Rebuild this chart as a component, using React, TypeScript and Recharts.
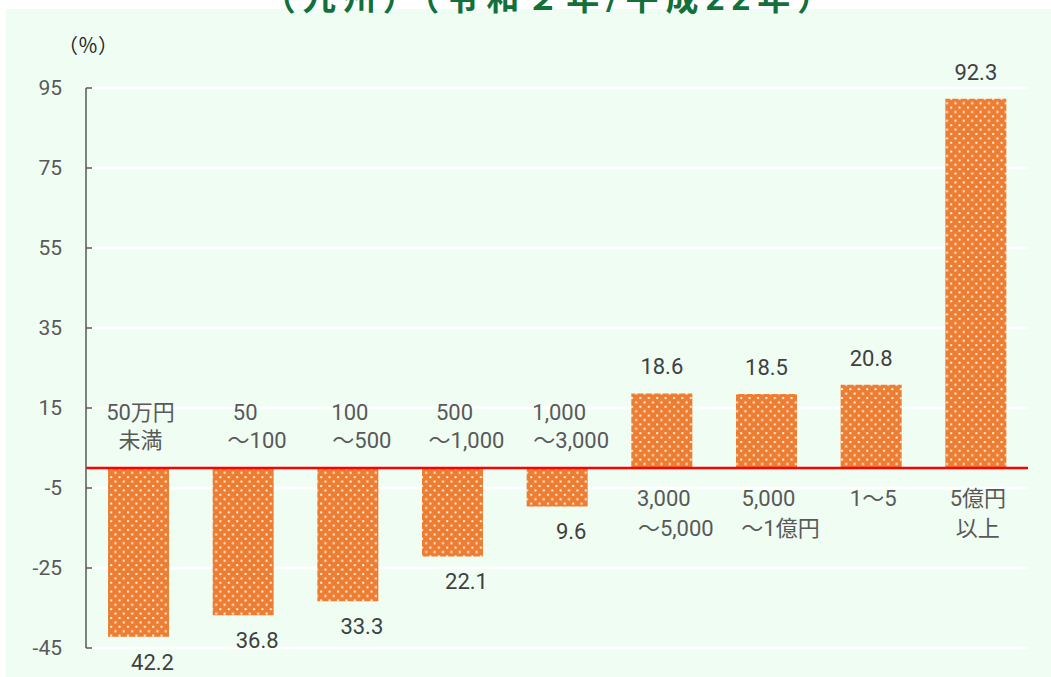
import { BarChart, Bar, XAxis, YAxis, CartesianGrid, ReferenceLine, LabelList } from "recharts";

const labelTop = ["50万円", "50", "100", "500", "1,000", "3,000", "5,000", "1～5", "5億円"];
const labelBottom = ["未満", "～100", "～500", "～1,000", "～3,000", "～5,000", "～1億円", "", "以上"];
const changeRate = [-42.2, -36.8, -33.3, -22.1, -9.6, 18.6, 18.5, 20.8, 92.3];
const yTicks = [-45, -25, -5, 15, 35, 55, 75, 95];

const data = labelTop.map((t, i) => ({ top: t, bottom: labelBottom[i], value: changeRate[i] }));

const FONT = "Roboto, 'Noto Sans CJK JP', sans-serif";
const AXIS_X = 86;

function YTick(props: any) {
  const { y, payload } = props;
  return (
    <g>
      <line x1={AXIS_X} x2={AXIS_X + 6} y1={y} y2={y} stroke="#595959" strokeWidth={1.5} />
      <text x={62} y={y} dy="0.35em" textAnchor="end" fontSize={21} fill="#595959" fontFamily={FONT}>
        {payload.value}
      </text>
    </g>
  );
}

function ValueLabel(props: any) {
  const { x, y, width, height, value } = props;
  const cx = x + width / 2;
  const top = Math.min(y, y + height);
  const bottom = Math.max(y, y + height);
  const neg = value < 0;
  return (
    <text
      x={neg ? cx + 14 : cx}
      y={neg ? bottom + 25 : top - 27}
      dy="0.35em"
      textAnchor="middle"
      fontSize={22}
      fill="#404040"
      fontFamily={FONT}
    >
      {Math.abs(value).toFixed(1)}
    </text>
  );
}

function CategoryLabel(props: any) {
  const { x, y, width, height, value, index } = props;
  const cx = x + width / 2;
  const neg = value < 0;
  const zero = neg ? Math.min(y, y + height) : Math.max(y, y + height);
  const l1 = labelTop[index];
  const l2 = labelBottom[index];
  const y1 = neg ? zero - 48 : zero + 38;
  const y2 = neg ? zero - 20 : zero + 68;
  return (
    <g fontSize={22} fill="#595959" fontFamily={FONT} textAnchor="middle">
      <text x={cx + 2} y={y1}>{l1}</text>
      {l2 && <text x={l2.startsWith("～") ? cx + 14 : cx + 2} y={y2}>{l2}</text>}
    </g>
  );
}

export default function App() {
  return (
    <div style={{ position: "relative", width: 1051, height: 677, background: "#fff", overflow: "hidden" }}>
      <style>{"body{margin:0}"}</style>
      <div style={{ position: "absolute", left: 6, top: 9, width: 1045, height: 668, background: "#effdf3" }} />
      <div
        style={{
          position: "absolute",
          left: 0,
          width: 1100,
          top: -28,
          textAlign: "center",
          fontSize: 33,
          fontWeight: 700,
          color: "#12703a",
          fontFamily: FONT,
          letterSpacing: 7,
          whiteSpace: "nowrap",
        }}
      >
        （九州）（令和２年/平成22年）
      </div>
      <div
        style={{
          position: "absolute",
          left: 58,
          top: 30,
          fontSize: 20,
          color: "#262626",
          fontFamily: FONT,
        }}
      >
        （％）
      </div>
      <div style={{ position: "absolute", left: 0, top: 0 }}>
        <BarChart width={1051} height={677} data={data} margin={{ top: 88, right: 23, bottom: 29, left: 0 }} barSize={61}>
          <defs>
            <pattern id="dotfill" width={8.4} height={8.8} patternUnits="userSpaceOnUse">
              <rect width={8.4} height={8.8} fill="#ed7d31" />
              <rect x={1} y={1} width={2} height={2} fill="#fff" opacity={0.9} />
              <rect x={5.2} y={5.4} width={2} height={2} fill="#fff" opacity={0.9} />
            </pattern>
          </defs>
          <CartesianGrid vertical={false} stroke="#ffffff" strokeWidth={3} />
          <XAxis dataKey="top" hide />
          <YAxis
            width={AXIS_X}
            domain={[-45, 95]}
            ticks={yTicks}
            interval={0}
            allowDataOverflow
            axisLine={{ stroke: "#595959", strokeWidth: 1.5 }}
            tickLine={false}
            tick={<YTick />}
          />
          <Bar dataKey="value" fill="url(#dotfill)" isAnimationActive={false}>
            <LabelList dataKey="value" content={<ValueLabel />} />
            <LabelList dataKey="value" content={<CategoryLabel />} />
          </Bar>
          <ReferenceLine y={0} stroke="#ff0000" strokeWidth={2.5} />
        </BarChart>
      </div>
    </div>
  );
}
